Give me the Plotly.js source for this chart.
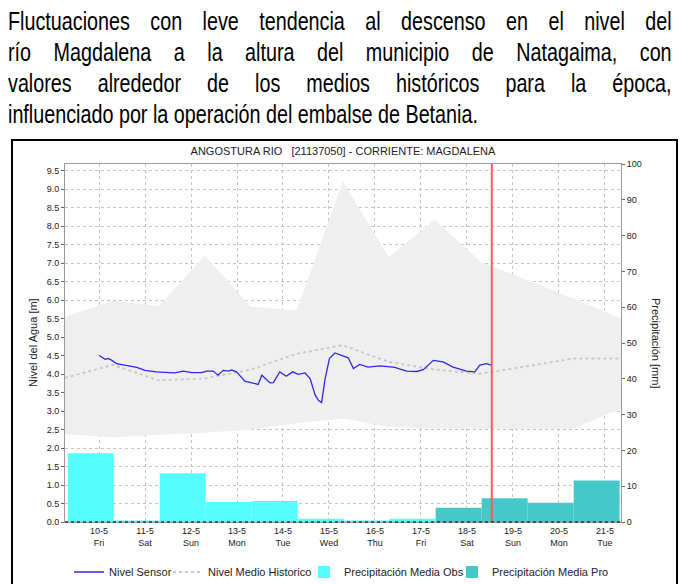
<!DOCTYPE html>
<html>
<head>
<meta charset="utf-8">
<script src="https://cdn.plot.ly/plotly-3.0.1.min.js"></script>
<style>
  html, body { margin:0; padding:0; background:#fff; }
  #wrap { position:relative; width:683px; height:584px; overflow:hidden; }
  #chart { position:absolute; left:0; top:0; width:683px; height:584px; }
  #para { position:absolute; left:8px; top:6px; width:840px; transform:scaleX(0.79); transform-origin:0 0; font-family:"Liberation Sans",Arial,sans-serif; font-size:25px; line-height:31px; color:#000; }
  #para div { white-space:nowrap; text-align:justify; text-align-last:justify; }
  #para div.last { text-align-last:left; }
  #frame { position:absolute; left:11px; top:139px; width:663px; height:520px; border:2px solid #000; pointer-events:none; }
</style>
</head>
<body>
<div id="wrap">
  <div id="chart"></div>
  <div id="frame"></div>
  <div id="para">
    <div>Fluctuaciones con leve tendencia al descenso en el nivel del</div>
    <div>río Magdalena a la altura del municipio de Natagaima, con</div>
    <div>valores alrededor de los medios históricos para la época,</div>
    <div class="last">influenciado por la operación del embalse de Betania.</div>
  </div>
</div>
<script>
// ---- Data ----
const dayLabels = ['10-5','11-5','12-5','13-5','14-5','15-5','16-5','17-5','18-5','19-5','20-5','21-5'];
const weekdays  = ['Fri','Sat','Sun','Mon','Tue','Wed','Thu','Fri','Sat','Sun','Mon','Tue'];
const dayIndex  = [0,1,2,3,4,5,6,7,8,9,10,11];

// Precipitation (mm): observed days 0..7, forecast days 8..11
const obsDays = [0,1,2,3,4,5,6,7];
const precipObs = [19.2, 0.4, 13.6, 5.6, 5.85, 0.9, 0.4, 0.9];
const proDays = [8,9,10,11];
const precipPro = [4.0, 6.6, 5.4, 11.6];

// Historic band & mean (daily, time in days from 10-5)
const histDays  = [-0.74, 0.3, 1.3, 2.3, 3.3, 4.3, 5.3, 6.3, 7.3, 8.3, 9.3, 10.3, 11.35];
const histMax   = [5.54, 5.98, 5.84, 7.20, 5.82, 5.72, 9.21, 7.16, 8.17, 7.03, 6.55, 6.05, 5.50];
const histMin   = [2.37, 2.29, 2.36, 2.41, 2.50, 2.67, 2.80, 2.57, 2.53, 2.52, 2.52, 2.52, 3.07];
const histMean  = [3.90, 4.25, 3.83, 3.88, 4.12, 4.55, 4.78, 4.33, 4.12, 4.01, 4.21, 4.42, 4.42];

// Sensor level (m)
const sensorDays = [0.00,0.06,0.13,0.20,0.28,0.38,0.60,0.82,1.00,1.25,1.54,1.65,1.83,2.02,2.23,2.34,2.48,2.59,2.70,2.81,2.88,2.99,3.17,3.32,3.46,3.54,3.61,3.72,3.79,3.93,4.07,4.21,4.33,4.48,4.59,4.70,4.77,4.84,4.91,5.01,5.13,5.28,5.42,5.53,5.67,5.85,6.11,6.43,6.69,6.91,7.05,7.27,7.48,7.70,7.99,8.17,8.28,8.43,8.52];
const sensorLevel = [4.51,4.46,4.40,4.42,4.37,4.28,4.24,4.18,4.10,4.06,4.04,4.03,4.08,4.04,4.04,4.08,4.08,3.97,4.10,4.08,4.11,4.06,3.81,3.77,3.72,3.97,3.88,3.76,3.77,4.06,3.94,4.06,3.99,4.03,3.88,3.43,3.29,3.23,3.83,4.42,4.57,4.51,4.44,4.15,4.26,4.19,4.22,4.18,4.08,4.07,4.12,4.37,4.33,4.19,4.08,4.06,4.24,4.28,4.24];

const nowDay = 8.54;

// ---- Traces ----
const FONT = 'Liberation Sans, Arial, sans-serif';
const traces = [
  { x: histDays, y: histMin, type:'scatter', mode:'lines', line:{width:0, color:'rgba(0,0,0,0)'}, showlegend:false, hoverinfo:'skip' },
  { x: histDays, y: histMax, type:'scatter', mode:'lines', line:{width:0, color:'rgba(0,0,0,0)'}, fill:'tonexty', fillcolor:'#efefef', showlegend:false, hoverinfo:'skip' },
  { x: histDays, y: histMean, type:'scatter', mode:'lines', name:'Nivel Medio Historico', line:{color:'#c8c8c8', width:2, dash:'dot'}, legend:'legend2' },
  { x: sensorDays, y: sensorLevel, type:'scatter', mode:'lines', name:'Nivel Sensor', line:{color:'#2b2be0', width:1.3}, legend:'legend' },
  { x: obsDays, y: precipObs, type:'bar', yaxis:'y2', name:'Precipitación Media Obs', width:1, offset:-0.68, marker:{color:'#55ffff', line:{width:0}}, legend:'legend3' },
  { x: proDays, y: precipPro, type:'bar', yaxis:'y2', name:'Precipitación Media Pro', width:1, offset:-0.68, marker:{color:'#46c8c8', line:{width:0}}, legend:'legend4' }
];

const legendCommon = {orientation:'h', xref:'container', yref:'container', xanchor:'left', y:1-572/584, yanchor:'middle', font:{family:FONT, size:11, color:'#222'}, itemwidth:30, bgcolor:'rgba(0,0,0,0)', borderwidth:0};

const layout = {
  width:683, height:584,
  margin:{l:65, r:62, t:164, b:62, pad:0},
  paper_bgcolor:'rgba(0,0,0,0)', plot_bgcolor:'#fff',
  font:{family:FONT, size:9, color:'#222'},
  title:{text:'ANGOSTURA RIO\u00a0\u00a0\u00a0[21137050] - CORRIENTE: MAGDALENA', font:{family:FONT, size:11, color:'#222'}, xref:'paper', x:0.5, xanchor:'center', yref:'container', y:1-151/584, yanchor:'middle'},
  showlegend:true,
  legend:Object.assign({}, legendCommon, {x:69/683}),
  legend2:Object.assign({}, legendCommon, {x:168/683}),
  legend3:Object.assign({}, legendCommon, {x:304/683}),
  legend4:Object.assign({}, legendCommon, {x:452/683}),
  barmode:'overlay',
  xaxis:{range:[-0.74, 11.35], tickmode:'array', tickvals:dayIndex, ticktext:dayIndex.map(i=>dayLabels[i]+'<br>'+weekdays[i]),
         showgrid:true, gridcolor:'#c4c4c4', griddash:'dot', gridwidth:1, showline:true, linecolor:'#999', mirror:true,
         ticks:'', zeroline:false, tickfont:{size:9, color:'#222'}, automargin:false},
  yaxis:{range:[0, 9.68], dtick:0.5, tick0:0, tickformat:'.1f', showgrid:true, gridcolor:'#c4c4c4', griddash:'dot', gridwidth:1,
         showline:true, linecolor:'#999', ticks:'outside', ticklen:3, tickcolor:'#666', zeroline:false, tickfont:{size:9, color:'#222'}, automargin:false},
  yaxis2:{range:[0,100], dtick:10, overlaying:'y', side:'right', showgrid:false, showline:true, linecolor:'#999', ticks:'outside', ticklen:3, tickcolor:'#666', zeroline:false, tickfont:{size:9, color:'#222'}, automargin:false},
  shapes:[
    {type:'line', xref:'x', yref:'paper', x0:nowDay, x1:nowDay, y0:0, y1:1, line:{color:'#ff5a5a', width:2}},
    {type:'line', xref:'paper', yref:'paper', x0:0, x1:1, y0:0, y1:0, line:{color:'#333', width:1.5, dash:'dot'}}
  ],
  annotations:[
    {text:'Nivel del Agua [m]', xref:'paper', yref:'paper', x:(33-65)/556, y:0.5, textangle:-90, showarrow:false, font:{family:FONT, size:11, color:'#222'}, xanchor:'center', yanchor:'middle'},
    {text:'Precipitación [mm]', xref:'paper', yref:'paper', x:(656-65)/556, y:0.5, textangle:90, showarrow:false, font:{family:FONT, size:11, color:'#222'}, xanchor:'center', yanchor:'middle'}
  ]
};

Plotly.newPlot('chart', traces, layout, {displayModeBar:false, staticPlot:true});
</script>
</body>
</html>
